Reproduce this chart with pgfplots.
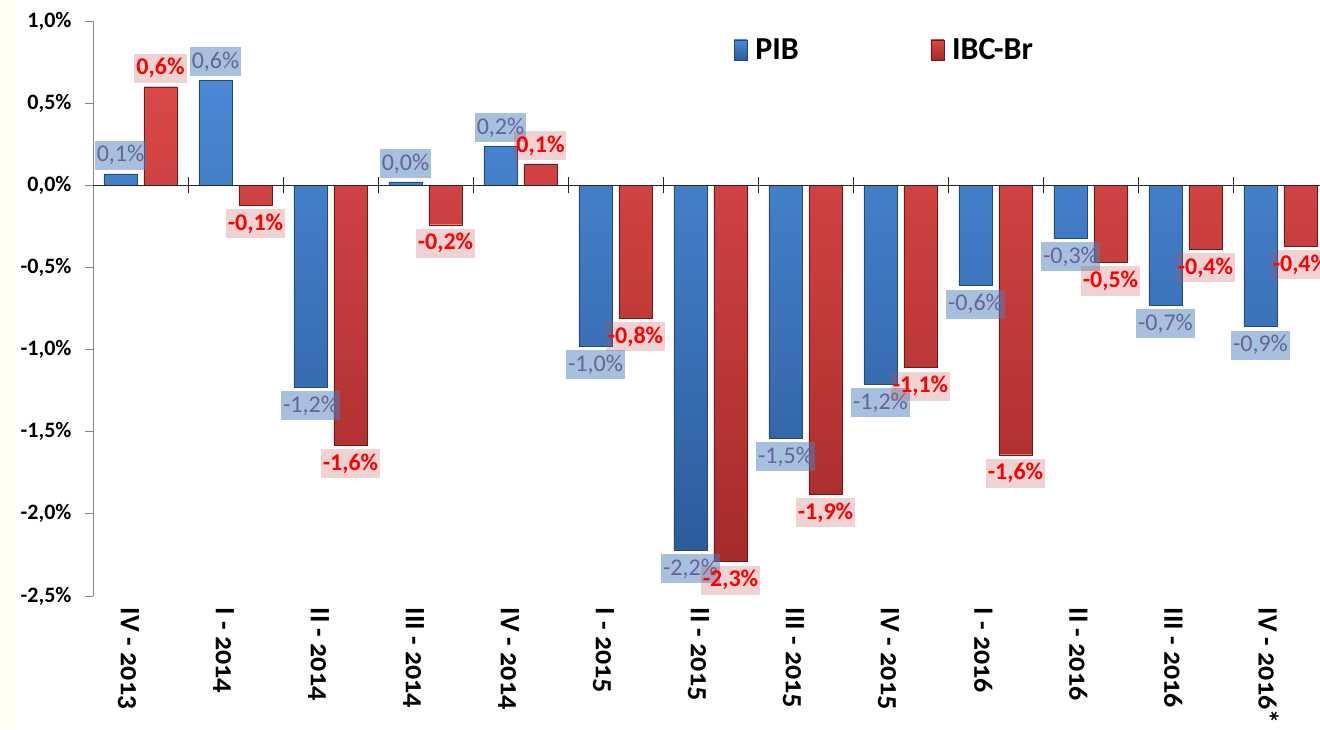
\documentclass[border=0pt]{standalone}
\usepackage{pgfplots}
\pgfplotsset{compat=1.18}
\usepackage{pgfplotstable}
\usepackage{fontspec}
\setmainfont{Carlito}
\definecolor{pibtop}{HTML}{4A89D6}
\definecolor{pibbot}{HTML}{2D5C9C}
\definecolor{pibedge}{HTML}{22497F}
\definecolor{ibctop}{HTML}{DA4847}
\definecolor{ibcbot}{HTML}{A62B2B}
\definecolor{ibcedge}{HTML}{6E1A1A}
\definecolor{pibbox}{HTML}{4F81BD}
\definecolor{pibtext}{HTML}{64649C}
\definecolor{ibcbox}{HTML}{C0504D}
\definecolor{ibctext}{HTML}{FF0000}
\definecolor{axgray}{HTML}{868686}

\pgfplotstableread{
x pib ibc
0 0.07 0.60
1 0.64 -0.12
2 -1.23 -1.58
3 0.02 -0.24
4 0.24 0.13
5 -0.98 -0.81
6 -2.22 -2.29
7 -1.54 -1.88
8 -1.21 -1.11
9 -0.61 -1.64
10 -0.32 -0.47
11 -0.73 -0.39
12 -0.86 -0.37
}\data

\begin{document}
\begin{tikzpicture}[x=1pt,y=1pt]
\useasboundingbox (0,0) rectangle (1320,729);
\fill[yellow!6] (0,0) rectangle (16,729);
\begin{axis}[
  at={(93pt,133pt)}, anchor=south west,
  scale only axis, width=1227pt, height=575pt,
  xmin=-0.5, xmax=12.416, ymin=-2.5, ymax=1.0,
  ybar, bar width=33pt,
  axis y line*=left, axis x line*=bottom,
  y axis line style={-, draw=axgray, line width=0.8pt},
  x axis line style={-, draw=none},
  ytick={-2.5,-2,-1.5,-1,-0.5,0,0.5,1},
  tick align=outside, major tick length=8pt,
  ytick style={draw=axgray, line width=0.8pt},
  xtick style={draw=none},
  xtick={0,...,12},
  xticklabels={IV - 2013, I - 2014, II - 2014, III - 2014, IV - 2014, I - 2015, II - 2015, III - 2015, IV - 2015, I - 2016, II - 2016, III - 2016, IV - 2016*},
  xticklabel style={rotate=-90, anchor=west, yshift=-12pt, font=\fontsize{28}{28}\selectfont\bfseries\addfontfeatures{Numbers=OldStyle}},
  yticklabel={\pgfmathprintnumber{\tick}\%},
  yticklabel style={font=\fontsize{22}{22}\selectfont\bfseries, xshift=-10pt},
  /pgf/number format/.cd, fixed, fixed zerofill, precision=1, use comma, assume math mode=true,
  /pgfplots/.cd,
  nodes near coords={\pgfmathprintnumber{\pgfplotspointmeta}\%},
  nodes near coords align=vertical,
  legend style={at={(0.645,0.95)}, anchor=center, draw=none, fill=none,
    legend columns=2, font=\fontsize{32}{32}\selectfont\bfseries,
    /tikz/every even column/.append style={column sep=130pt}},
  legend image code/.code={\draw[#1] (0pt,-10pt) rectangle (13pt,10pt);},
  clip=false,
]
\addplot[bar shift=-20pt, draw=pibedge, top color=pibtop, bottom color=pibbot,
  every node near coord/.append style={fill=pibbox, fill opacity=0.5, text opacity=1,
    text=pibtext, font=\fontsize{24}{24}\selectfont, inner xsep=2pt, minimum height=29pt, outer sep=4pt}]
  table[x=x, y=pib] {\data};
\addlegendentry{\hspace*{6pt}PIB}
\addplot[bar shift=20pt, draw=ibcedge, top color=ibctop, bottom color=ibcbot,
  every node near coord/.append style={fill=ibcbox, fill opacity=0.25, text opacity=1,
    text=ibctext, font=\fontsize{24}{24}\selectfont\bfseries, inner xsep=2pt, minimum height=29pt, outer sep=4pt}]
  table[x=x, y=ibc] {\data};
\addlegendentry{\hspace*{6pt}IBC-Br}
\draw[black!85, line width=0.8pt] (axis cs:-0.5,0) -- (axis cs:12.416,0);
\pgfplotsinvokeforeach{0.5,1.5,2.5,3.5,4.5,5.5,6.5,7.5,8.5,9.5,10.5,11.5}{
  \draw[black!85, line width=0.8pt] ([yshift=-8pt]axis cs:#1,0) -- ([yshift=8pt]axis cs:#1,0);
}
\end{axis}
\end{tikzpicture}
\end{document}
